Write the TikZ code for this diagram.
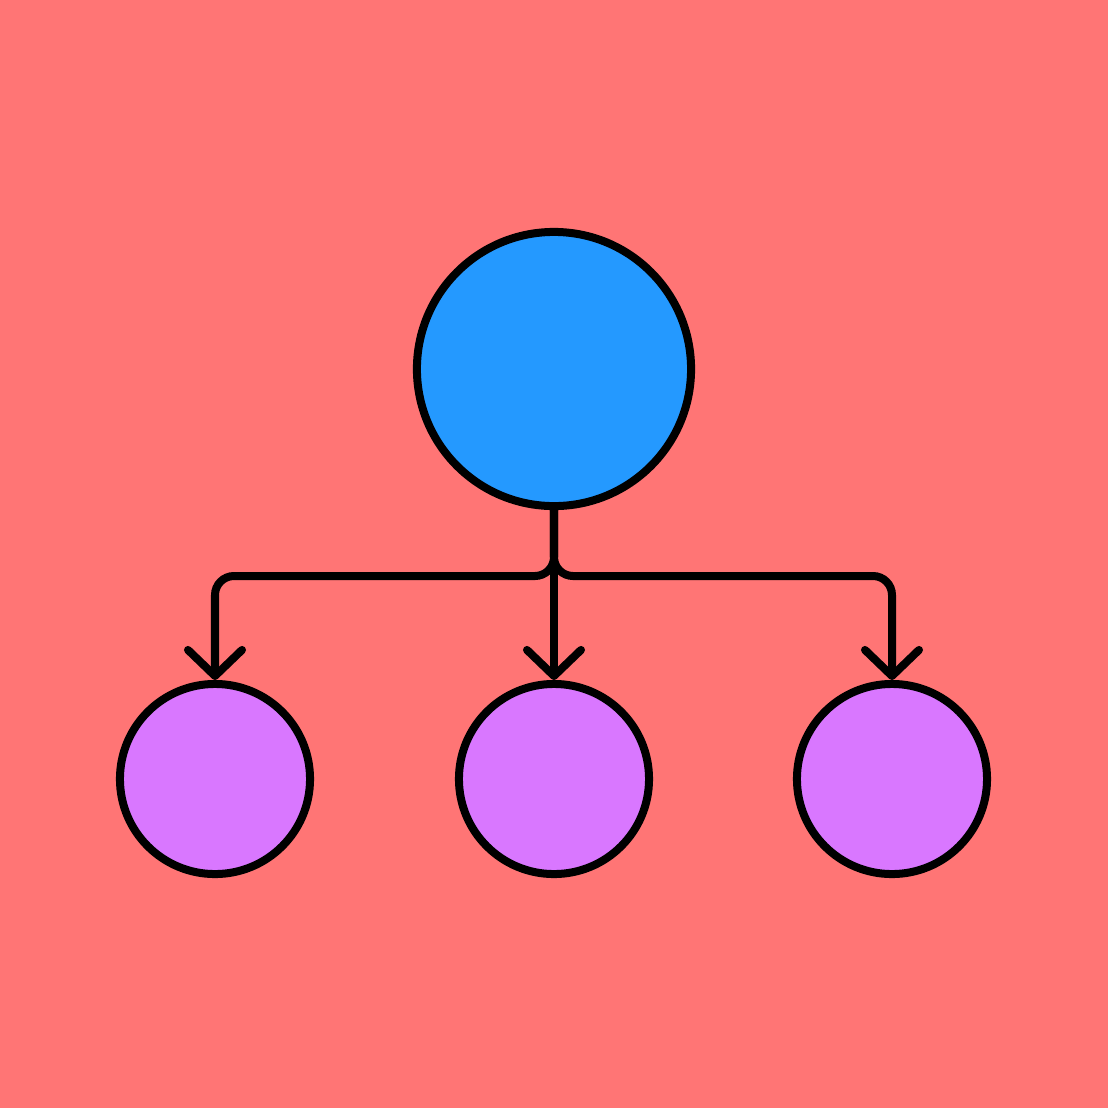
\documentclass[tikz,border=0pt]{standalone}
\usepackage{xcolor}
\usetikzlibrary{arrows.meta}
\definecolor{bgred}{RGB}{255,117,117}
\definecolor{rootblue}{RGB}{36,153,255}
\definecolor{leafpink}{RGB}{217,119,255}
\begin{document}
\begin{tikzpicture}[x=0.01cm,y=-0.01cm,line width=0.08cm,
  root/.style={circle,draw,fill=rootblue,inner sep=0,minimum size=2.74cm},
  leaf/.style={circle,draw,fill=leafpink,inner sep=0,minimum size=1.90cm},
  branch/.style={rounded corners=0.19cm,line cap=round,
    -{Straight Barb[length=2.6mm,width=5.4mm,round]}}]
\fill[bgred] (0,0) rectangle (1108,1108);
\useasboundingbox (0,0) rectangle (1108,1108);
\node[root] (top) at (554,369) {};
\node[leaf] (left) at (215,779) {};
\node[leaf] (mid) at (554,779) {};
\node[leaf] (right) at (892,779) {};
\coordinate (fork) at (554,576);
% the three branches
\draw[branch] (top.south) -- (fork) -| (left.north);
\draw[branch] (top.south) -- (fork) -| (right.north);
\draw[branch] (top.south) -- (mid.north);
\end{tikzpicture}
\end{document}
